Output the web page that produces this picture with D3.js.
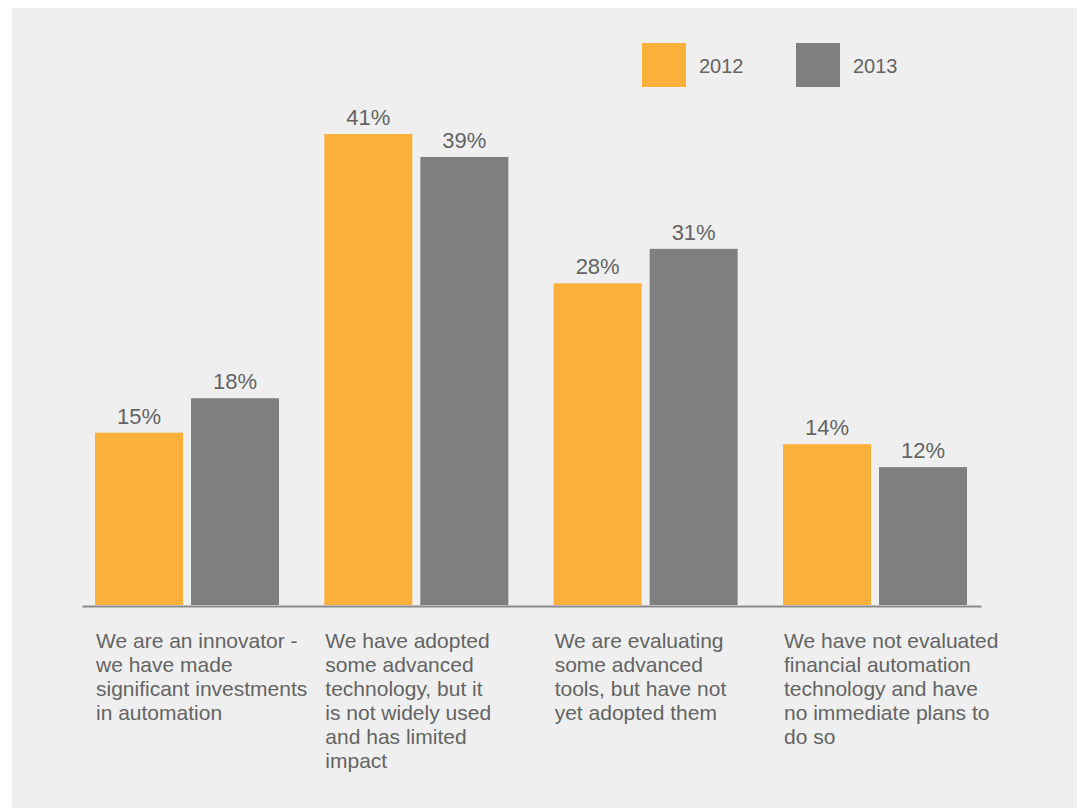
<!DOCTYPE html>
<html>
<head>
<meta charset="utf-8">
<script src="https://cdn.jsdelivr.net/npm/d3@7"></script>
<style>
  html, body { margin: 0; padding: 0; background: #ffffff; }
  svg { display: block; }
  text { font-family: "Liberation Sans", Arial, Helvetica, sans-serif; fill: #646464; }
</style>
</head>
<body>
<script>
// Survey answers on financial automation adoption, 2012 vs 2013 (percent of respondents)
const categories = [
  ["We are an innovator -", "we have made", "significant investments", "in automation"],
  ["We have adopted", "some advanced", "technology, but it", "is not widely used", "and has limited", "impact"],
  ["We are evaluating", "some advanced", "tools, but have not", "yet adopted them"],
  ["We have not evaluated", "financial automation", "technology and have", "no immediate plans to", "do so"]
];
const years = ["2012", "2013"];
const values2012 = [15, 41, 28, 14];
const values2013 = [18, 39, 31, 12];
const colors = ["#fab03b", "#7f7f80"];

const W = 1080, H = 808;
const svg = d3.select("body").append("svg").attr("width", W).attr("height", H);

// panel background
svg.append("rect").attr("x", 12).attr("y", 8).attr("width", 1065).attr("height", 800)
  .attr("fill", "#eeefee");

const catIdx = d3.range(categories.length);
const x0 = d3.scaleBand().domain(catIdx).range([95, 967]).paddingInner(0.1977).paddingOuter(0);
const x1 = d3.scaleBand().domain(years).range([0, x0.bandwidth()]).paddingInner(0.0833).paddingOuter(0);
const y = d3.scaleLinear().domain([0, 45]).range([605, 88]);
const color = d3.scaleOrdinal().domain(years).range(colors);

const rows = catIdx.map(i => ({
  i,
  items: [
    { year: years[0], v: values2012[i] },
    { year: years[1], v: values2013[i] }
  ]
}));

const groups = svg.selectAll("g.grp").data(rows).join("g")
  .attr("class", "grp")
  .attr("transform", d => `translate(${x0(d.i)},0)`);

groups.selectAll("rect").data(d => d.items).join("rect")
  .attr("x", d => x1(d.year))
  .attr("y", d => y(d.v))
  .attr("width", x1.bandwidth())
  .attr("height", d => y(0) - y(d.v))
  .attr("fill", d => color(d.year));

groups.selectAll("text.val").data(d => d.items).join("text")
  .attr("class", "val")
  .attr("x", d => x1(d.year) + x1.bandwidth() / 2)
  .attr("y", d => y(d.v) - 9)
  .attr("text-anchor", "middle")
  .style("font-size", "22px")
  .text(d => d.v + "%");

// baseline axis
const xAxis = d3.axisBottom(d3.scaleLinear().range([82, 981])).ticks(0).tickSize(0).tickSizeOuter(0);
const axisG = svg.append("g").attr("transform", `translate(0,${y(0) + 1})`).call(xAxis);
axisG.select(".domain").attr("stroke", "#8a8a8a").attr("stroke-width", 2);
axisG.selectAll(".tick").remove();

// category descriptions under each group
groups.append("text")
  .attr("class", "cat")
  .attr("x", 1)
  .attr("y", 648)
  .style("font-size", "21px")
  .selectAll("tspan").data(d => categories[d.i]).join("tspan")
  .attr("x", 1)
  .attr("dy", (d, k) => k === 0 ? 0 : 24)
  .text(d => d);

// legend
const legend = svg.append("g").selectAll("g").data(years).join("g")
  .attr("transform", (d, k) => `translate(${642 + k * 154},43)`);
legend.append("rect").attr("width", 44).attr("height", 44).attr("fill", d => color(d));
legend.append("text").attr("x", 57).attr("y", 29.5).style("font-size", "20px").text(d => d);
</script>
</body>
</html>
